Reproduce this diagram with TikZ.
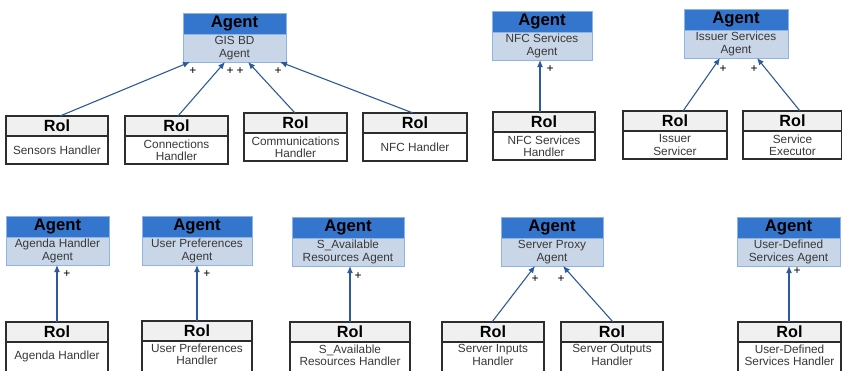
\documentclass[tikz,border=0pt]{standalone}
\usepackage{fontspec}
\setmainfont{Liberation Sans}
\usepackage{tikz}
\usetikzlibrary{arrows.meta}
\usetikzlibrary{positioning}
\definecolor{agenthd}{RGB}{52,118,205}
\definecolor{agentbd}{RGB}{201,214,232}
\definecolor{agentln}{RGB}{140,180,230}
\definecolor{rolhd}{RGB}{240,240,240}
\definecolor{rolln}{RGB}{45,45,45}
\definecolor{linkblue}{RGB}{45,90,155}
\colorlet{bodytext}{black!78}

\begin{document}
\begin{tikzpicture}[x=1pt,y=-1pt,
  agenthead/.style={draw=agentln,fill=agenthd,line width=1pt,minimum width=#1,minimum height=21pt,
    inner sep=0pt,outer sep=0pt,anchor=north,font=\fontsize{16.7}{16.7}\selectfont\bfseries},
  agentbody/.style={draw=agentln,fill=agentbd,line width=1pt,minimum width=#1,minimum height=28pt,
    inner sep=0pt,outer sep=0pt,align=center,text=bodytext,font=\fontsize{11.8}{12.3}\selectfont},
  rolhead/.style={draw=rolln,fill=rolhd,line width=1.1pt,minimum width=#1,minimum height=20pt,
    inner sep=0pt,outer sep=0pt,anchor=north,font=\fontsize{16.2}{16.2}\selectfont\bfseries},
  rolbody/.style={draw=rolln,fill=white,line width=1.1pt,minimum width=#1,minimum height=28pt,
    inner sep=0pt,outer sep=0pt,align=center,text=bodytext,font=\fontsize{11.8}{12.3}\selectfont},
  cutbody/.style={minimum height=34pt,text depth=8pt},
  link/.style={draw=linkblue,line width=1.1pt,-{Latex[length=7pt,width=6pt]}},
  plus/.style={inner sep=0pt,anchor=center,font=\fontsize{12}{12}\selectfont}]
\clip (0,0) rectangle (842,370);

% top row
\node[agenthead=103pt] (gisA) at (234.5,13) {Agent};
\node[agentbody=103pt,below=0pt of gisA] (gis) {GIS BD\\Agent};
\node[agenthead=100pt] (nfcsA) at (542,11) {Agent};
\node[agentbody=100pt,below=0pt of nfcsA] (nfcs) {NFC Services\\Agent};
\node[agenthead=104pt] (issA) at (736,9) {Agent};
\node[agentbody=104pt,below=0pt of issA] (iss) {Issuer Services\\Agent};

\node[rolhead=102pt] (senR) at (57,116) {Rol};
\node[rolbody=102pt,below=0pt of senR] (sen) {Sensors Handler};
\node[rolhead=103pt] (conR) at (176.5,116) {Rol};
\node[rolbody=103pt,below=0pt of conR] (con) {Connections\\Handler};
\node[rolhead=103pt] (comR) at (295.5,113) {Rol};
\node[rolbody=103pt,below=0pt of comR] (com) {Communications\\Handler};
\node[rolhead=104pt] (nfcR) at (415,113) {Rol};
\node[rolbody=104pt,below=0pt of nfcR] (nfc) {NFC Handler};
\node[rolhead=102pt] (nfcsR) at (544,112) {Rol};
\node[rolbody=102pt,below=0pt of nfcsR] (nfcsh) {NFC Services\\Handler};
\node[rolhead=104pt] (isvR) at (675,111) {Rol};
\node[rolbody=104pt,below=0pt of isvR] (isv) {Issuer\\Servicer};
\node[rolhead=99pt] (sexR) at (792.5,111) {Rol};
\node[rolbody=99pt,below=0pt of sexR] (sex) {Service\\Executor};

\draw[link] ([xshift=3pt]senR.north) -- ([xshift=-44.5pt]gis.south) node[plus,at end,xshift=3pt,yshift=-9pt] {+};
\draw[link] ([xshift=1.5pt]conR.north) -- ([xshift=-9.5pt]gis.south) node[plus,at end,xshift=5pt,yshift=-9pt] {+};
\draw[link] ([xshift=-0.5pt]comR.north) -- ([xshift=13.5pt]gis.south) node[plus,at end,xshift=-8pt,yshift=-9pt] {+};
\draw[link] ([xshift=-2pt]nfcR.north) -- ([xshift=45.5pt]gis.south) node[plus,at end,xshift=-2pt,yshift=-9pt] {+};
\draw[link] ([xshift=-4pt]nfcsR.north) -- ([xshift=-2pt]nfcs.south) node[plus,at end,xshift=10pt,yshift=-9pt] {+};
\draw[link] ([xshift=8pt]isvR.north) -- ([xshift=-16pt]iss.south) node[plus,at end,xshift=3pt,yshift=-11pt] {+};
\draw[link] ([xshift=7.5pt]sexR.north) -- ([xshift=21pt]iss.south) node[plus,at end,xshift=-3pt,yshift=-11pt] {+};

% bottom row
\node[agenthead=103pt] (agdA) at (57.5,216) {Agent};
\node[agentbody=103pt,below=0pt of agdA] (agd) {Agenda Handler\\Agent};
\node[agenthead=110pt] (uprA) at (197,216) {Agent};
\node[agentbody=110pt,below=0pt of uprA] (upr) {User Preferences\\Agent};
\node[agenthead=112pt] (savA) at (348,217) {Agent};
\node[agentbody=112pt,below=0pt of savA] (sav) {S\_Available\\Resources Agent};
\node[agenthead=102pt] (spxA) at (552,217) {Agent};
\node[agentbody=102pt,below=0pt of spxA] (spx) {Server Proxy\\Agent};
\node[agenthead=103pt] (udsA) at (788.5,217) {Agent};
\node[agentbody=103pt,below=0pt of udsA] (uds) {User-Defined\\Services Agent};

\node[rolhead=102pt] (agdR) at (57,322) {Rol};
\node[rolbody=102pt,cutbody,below=0pt of agdR] (agdh) {Agenda Handler};
\node[rolhead=110pt] (uprR) at (197,321) {Rol};
\node[rolbody=110pt,cutbody,below=0pt of uprR] (uprh) {User Preferences\\Handler};
\node[rolhead=120pt] (savR) at (350,322) {Rol};
\node[rolbody=120pt,cutbody,below=0pt of savR] (savh) {S\_Available\\Resources Handler};
\node[rolhead=102pt] (sinR) at (493,322) {Rol};
\node[rolbody=102pt,cutbody,below=0pt of sinR] (sin) {Server Inputs\\Handler};
\node[rolhead=102pt] (soutR) at (612,322) {Rol};
\node[rolbody=102pt,cutbody,below=0pt of soutR] (sout) {Server Outputs\\Handler};
\node[rolhead=103pt] (udsR) at (789.5,322) {Rol};
\node[rolbody=103pt,cutbody,below=0pt of udsR] (udsh) {User-Defined\\Services Handler};

\draw[link] (agdR.north) -- (agdR.north |- agd.south) node[plus,at end,xshift=10pt,yshift=-9pt] {+};
\draw[link] (uprR.north) -- (uprR.north |- upr.south) node[plus,at end,xshift=10pt,yshift=-9pt] {+};
\draw[link] (savR.north) -- (savR.north |- sav.south) node[plus,at end,xshift=8pt,yshift=-10pt] {+};
\draw[link] ([xshift=-1pt]sinR.north) -- ([xshift=-17pt]spx.south) node[plus,at end,xshift=0pt,yshift=-13pt] {+};
\draw[link] ([xshift=1pt]soutR.north) -- ([xshift=11pt]spx.south) node[plus,at end,xshift=-2pt,yshift=-13pt] {+};
\draw[link] ([xshift=-0.5pt]udsR.north) -- ([xshift=0.5pt]uds.south) node[plus,at end,xshift=8pt,yshift=-5pt] {+};
\end{tikzpicture}
\end{document}
